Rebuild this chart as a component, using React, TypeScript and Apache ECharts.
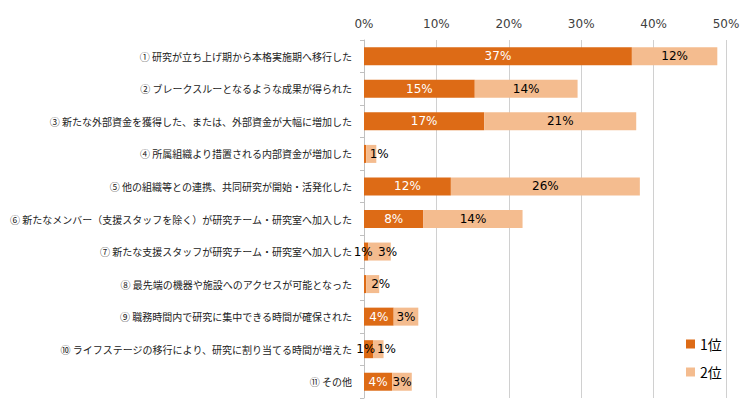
import React, { useEffect, useRef } from 'react';
import * as echarts from 'echarts';

const categories = [
  '① 研究が立ち上げ期から本格実施期へ移行した',
  '② ブレークスルーとなるような成果が得られた',
  '③ 新たな外部資金を獲得した、または、外部資金が大幅に増加した',
  '④ 所属組織より措置される内部資金が増加した',
  '⑤ 他の組織等との連携、共同研究が開始・活発化した',
  '⑥ 新たなメンバー（支援スタッフを除く）が研究チーム・研究室へ加入した',
  '⑦ 新たな支援スタッフが研究チーム・研究室へ加入した',
  '⑧ 最先端の機器や施設へのアクセスが可能となった',
  '⑨ 職務時間内で研究に集中できる時間が確保された',
  '⑩ ライフステージの移行により、研究に割り当てる時間が増えた',
  '⑪ その他'
];

const rank1 = [37.0, 15.3, 16.6, 0.3, 12.0, 8.2, 0.6, 0.3, 4.1, 1.3, 3.9];
const rank2 = [11.8, 14.2, 21.0, 1.4, 26.1, 13.7, 3.1, 1.8, 3.4, 1.4, 2.7];

const seriesNames = ['1位', '2位'];
const colors = ['#DD6B16', '#F4BC8F'];

const latin = 'DejaVu Sans, "Noto Sans CJK JP", sans-serif';
const cjk = '"Noto Sans CJK JP", sans-serif';

const fmt = (v: number) => `${Math.round(v)}%`;

const App: React.FC = () => {
  const chartRef = useRef<HTMLDivElement>(null);

  useEffect(() => {
    if (!chartRef.current) return;
    const chart = echarts.init(chartRef.current, undefined, { renderer: 'svg' });

    // tiny 1位 segments: dark label nudged left, hidden below 0.5%
    const firstData = rank1.map(v => ({
      value: v,
      label: {
        show: v >= 0.5,
        color: v < 2 ? '#000' : '#fff',
        offset: v < 2 ? [-3, 0] : [0, 0]
      }
    }));

    // shift the 2位 label when the 1位 segment is too narrow for its own label
    const secondData = rank2.map((v, i) => ({
      value: v,
      label: {
        offset: rank1[i] < 2 ? [8, 0] : [0, 0]
      }
    }));

    const option: any = {
      animation: false,
      textStyle: { fontFamily: latin },
      grid: { left: 364, right: 23, top: 40, bottom: 21, containLabel: false, outerBoundsMode: 'none' },
      legend: {
        orient: 'vertical',
        left: 681,
        top: 332,
        itemWidth: 9,
        itemHeight: 9,
        itemGap: 14,
        icon: 'rect',
        textStyle: { fontSize: 14, color: '#000', fontFamily: cjk },
        data: seriesNames
      },
      xAxis: {
        type: 'value',
        position: 'top',
        min: 0,
        max: 50,
        interval: 10,
        axisLine: { show: false },
        axisTick: { show: false },
        axisLabel: {
          formatter: '{value}%',
          color: '#404040',
          fontSize: 12,
          margin: 10
        },
        splitLine: { lineStyle: { color: '#D0D0D0', width: 1 } }
      },
      yAxis: {
        type: 'category',
        inverse: true,
        data: categories,
        axisLine: { show: true, lineStyle: { color: '#C0C0C0' } },
        axisTick: { show: true, length: 4, lineStyle: { color: '#C0C0C0' } },
        axisLabel: {
          color: '#222',
          fontSize: 10,
          fontFamily: cjk,
          margin: 12
        }
      },
      series: [
        {
          name: seriesNames[0],
          type: 'bar',
          stack: 'rank',
          barWidth: 18,
          data: firstData,
          itemStyle: { color: colors[0] },
          label: {
            show: true,
            position: 'inside',
            formatter: (p: any) => fmt(p.value),
            fontSize: 12,
            fontFamily: latin
          }
        },
        {
          name: seriesNames[1],
          type: 'bar',
          stack: 'rank',
          barWidth: 18,
          data: secondData,
          itemStyle: { color: colors[1] },
          label: {
            show: true,
            position: 'inside',
            formatter: (p: any) => fmt(p.value),
            color: '#000',
            fontSize: 12,
            fontFamily: latin
          }
        }
      ]
    };

    chart.setOption(option);

    return () => {
      chart.dispose();
    };
  }, []);

  return (
    <div style={{ position: 'absolute', left: 0, top: 0, width: 749, height: 419, background: '#fff' }}>
      <div ref={chartRef} style={{ width: '100%', height: '100%' }} />
    </div>
  );
};

export default App;
